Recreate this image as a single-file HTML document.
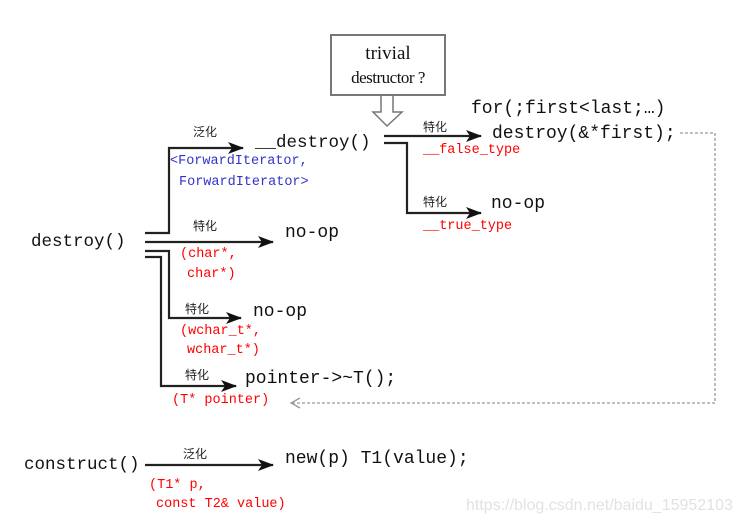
<!DOCTYPE html>
<html><head><meta charset="utf-8"><style>
body{margin:0;background:#fff;width:739px;height:525px;position:relative;overflow:hidden}
.t{position:absolute;white-space:pre;font-family:"Liberation Mono",monospace;font-size:17.5px;color:#111;line-height:1}
.s{position:absolute;white-space:pre;font-family:"Liberation Mono",monospace;font-size:13.5px;line-height:1}
.r{color:#f00}.b{color:#33c}
.c{position:absolute;font-family:"Liberation Sans","Noto Sans CJK SC",sans-serif;font-size:12px;color:#222;line-height:1}
</style></head><body>
<svg width="739" height="525" style="position:absolute;left:0;top:0">
<defs>
<marker id="a2" viewBox="0 0 16 12" markerWidth="16" markerHeight="12" refX="15" refY="6" orient="auto" markerUnits="userSpaceOnUse"><path d="M0,0 L16,6 L0,12 L4,6z" fill="#111"/></marker></defs>
<g stroke="#222" stroke-width="2.2" fill="none">
<path d="M145,233 H169 V148 H243" marker-end="url(#a2)"/>
<path d="M145,242 H273" marker-end="url(#a2)"/>
<path d="M145,251 H169 V318 H241" marker-end="url(#a2)"/>
<path d="M145,257 H161 V386 H236" marker-end="url(#a2)"/>
<path d="M384,136 H481" marker-end="url(#a2)"/>
<path d="M384,143 H407 V213 H481" marker-end="url(#a2)"/>
<path d="M145,465 H273" marker-end="url(#a2)"/>
</g>
<rect x="331" y="35" width="114" height="60" fill="#fff" stroke="#777" stroke-width="2"/>
<path d="M381,96 V112 H373 L387,126 L402,112 H393 V96" fill="#fff" stroke="#777" stroke-width="1.5"/>
<path d="M680,133 H715 V403 H292" fill="none" stroke="#999" stroke-width="1.3" stroke-dasharray="3,2"/>
<path d="M300,398 L291,403 L300,408" fill="none" stroke="#999" stroke-width="1.3"/>
</svg>
<div style="position:absolute;left:331px;top:42px;width:114px;text-align:center;font-family:'Liberation Serif',serif;font-size:19px;line-height:1.25;color:#111">trivial<br><span style="font-size:17px;letter-spacing:-0.5px">destructor ?</span></div>
<div class="t" style="left:31px;top:234px">destroy()</div>
<div class="t" style="left:255px;top:135px">__destroy()</div>
<div class="t" style="left:471px;top:100px;font-size:18px">for(;first&lt;last;…)</div>
<div class="t" style="left:492px;top:125px;font-size:18px">destroy(&amp;*first);</div>
<div class="t" style="left:491px;top:195px;font-size:18px">no-op</div>
<div class="t" style="left:285px;top:224px;font-size:18px">no-op</div>
<div class="t" style="left:253px;top:303px;font-size:18px">no-op</div>
<div class="t" style="left:245px;top:370px;font-size:18px">pointer-&gt;~T();</div>
<div class="t" style="left:24px;top:457px">construct()</div>
<div class="t" style="left:285px;top:450px;font-size:18px">new(p) T1(value);</div>
<div class="c" style="left:193px;top:126px">泛化</div>
<div class="c" style="left:193px;top:220px">特化</div>
<div class="c" style="left:185px;top:303px">特化</div>
<div class="c" style="left:185px;top:369px">特化</div>
<div class="c" style="left:423px;top:121px">特化</div>
<div class="c" style="left:423px;top:196px">特化</div>
<div class="c" style="left:183px;top:448px">泛化</div>
<div class="s b" style="left:170px;top:155px">&lt;ForwardIterator,</div>
<div class="s b" style="left:179px;top:176px">ForwardIterator&gt;</div>
<div class="s r" style="left:423px;top:144px">__false_type</div>
<div class="s r" style="left:423px;top:220px">__true_type</div>
<div class="s r" style="left:180px;top:248px">(char*,</div>
<div class="s r" style="left:187px;top:268px">char*)</div>
<div class="s r" style="left:180px;top:325px">(wchar_t*,</div>
<div class="s r" style="left:187px;top:344px">wchar_t*)</div>
<div class="s r" style="left:172px;top:394px">(T* pointer)</div>
<div class="s r" style="left:149px;top:479px">(T1* p,</div>
<div class="s r" style="left:156px;top:498px">const T2&amp; value)</div>
<div style="position:absolute;left:466px;top:497px;font-family:'Liberation Sans',sans-serif;font-size:16px;color:#e2e2e2">https://blog.csdn.net/baidu_15952103</div>
</body></html>
